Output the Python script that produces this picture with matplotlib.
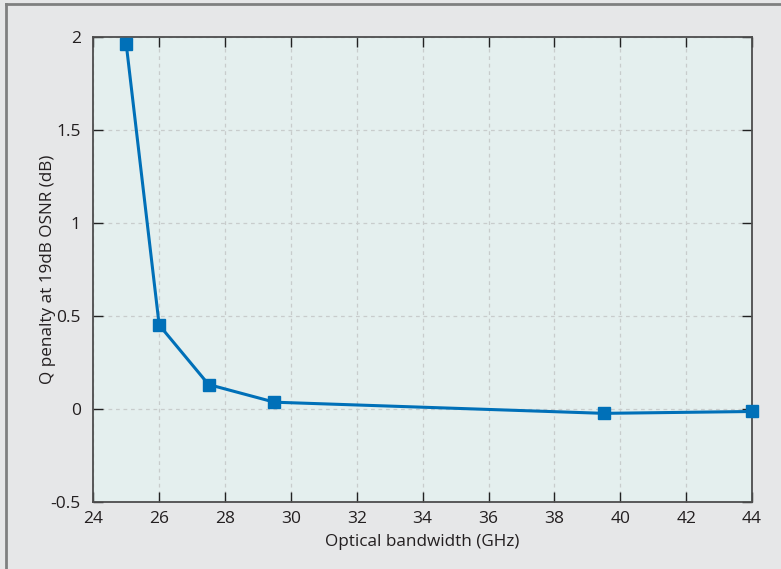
import matplotlib
matplotlib.use("Agg")
import matplotlib.pyplot as plt
from matplotlib.lines import Line2D

bandwidth_ghz = [25, 26, 27.5, 29.5, 39.5, 44]
q_penalty_db = [1.96, 0.45, 0.13, 0.035, -0.025, -0.015]

x_ticks = [24, 26, 28, 30, 32, 34, 36, 38, 40, 42, 44]
y_ticks = [-0.5, 0, 0.5, 1, 1.5, 2]
y_tick_labels = ["-0.5", "0", "0.5", "1", "1.5", "2"]

plt.rcParams["font.family"] = ["Open Sans", "DejaVu Sans"]

W, H = 781, 569
fig = plt.figure(figsize=(W / 100, H / 100), dpi=100, facecolor="#e6e7e8")
ax = fig.add_axes([93.3 / W, 1 - 501.7 / H, (752 - 93.3) / W, (501.7 - 36.7) / H])
ax.set_facecolor("#e4efee")

ax.plot(bandwidth_ghz, q_penalty_db, color="#0070b8", lw=2.2,
        marker="s", ms=8, mfc="#0070b8", mec="#0070b8", zorder=3, clip_on=False)

ax.set_xlim(24, 44)
ax.set_ylim(-0.5, 2)
ax.set_xticks(x_ticks)
ax.set_yticks(y_ticks)
ax.set_yticklabels(y_tick_labels)
ax.grid(True, color="#c8cccc", linestyle=(0, (3, 3)), lw=0.9)
ax.set_axisbelow(True)

ax.tick_params(direction="in", length=7, width=1.0, color="#222222",
               labelsize=12.5, labelcolor="#231f20", top=True, right=True)
ax.tick_params(axis="y", pad=9)
ax.tick_params(axis="x", pad=7)
for s in ax.spines.values():
    s.set_color("#4d4d4d")
    s.set_linewidth(1.3)

ax.set_xlabel("Optical bandwidth (GHz)", fontsize=12.3, color="#231f20", labelpad=5)
ax.set_ylabel("Q penalty at 19dB OSNR (dB)", fontsize=12.3, color="#231f20", labelpad=-4)

# frame lines along the top and left edges of the figure
fig.add_artist(Line2D([6 / W, 1], [1 - 4 / H, 1 - 4 / H], color="#7f8080", lw=2.0,
                      transform=fig.transFigure))
fig.add_artist(Line2D([6 / W, 6 / W], [0, 1 - 4 / H], color="#7f8080", lw=2.0,
                      transform=fig.transFigure))

fig.savefig("out.png", dpi=100, facecolor=fig.get_facecolor())
